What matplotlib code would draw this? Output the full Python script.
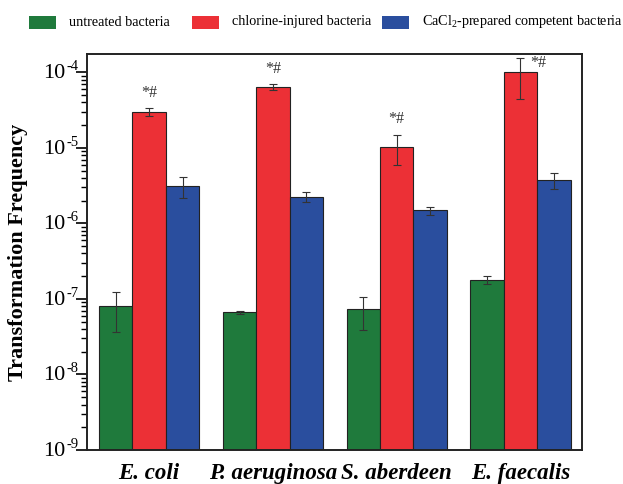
import numpy as np
import matplotlib
matplotlib.use('Agg')
import matplotlib.pyplot as plt
from matplotlib.patches import Rectangle

plt.rcParams['font.family'] = 'Liberation Serif'
plt.rcParams['mathtext.fontset'] = 'custom'
plt.rcParams['mathtext.rm'] = 'Liberation Serif'
plt.rcParams['mathtext.it'] = 'Liberation Serif:italic'

species = ['E. coli', 'P. aeruginosa', 'S. aberdeen', 'E. faecalis']
groups = ['untreated bacteria', 'chlorine-injured bacteria',
          'CaCl$_2$-prepared competent bacteria']
untreated = [7.9e-8, 6.6e-8, 7.2e-8, 1.79e-7]
untreated_err = [4.3e-8, 3e-9, 3.3e-8, 2e-8]
chlorine = [3.0e-5, 6.4e-5, 1.04e-5, 1.0e-4]
chlorine_err = [3.5e-6, 6e-6, 4.5e-6, 5.6e-5]
cacl2 = [3.16e-6, 2.26e-6, 1.48e-6, 3.77e-6]
cacl2_err = [1.0e-6, 3.3e-7, 1.8e-7, 9e-7]
marks = ['*#', '*#', '*#', '*#']
decades = [-9, -8, -7, -6, -5, -4]

colors = ['#1f7a3c', '#ec3036', '#2a4e9e']

fig = plt.figure(figsize=(6.23, 4.84), dpi=100)
ax = fig.add_axes([0.1401, 0.0702, 0.7946, 0.8176])

x = np.arange(len(species))
w = 0.27
series = [(untreated, untreated_err), (chlorine, chlorine_err), (cacl2, cacl2_err)]
for i, (vals, errs) in enumerate(series):
    ax.bar(x + (i - 1) * w, vals, w, bottom=1e-9, color=colors[i],
           edgecolor='#222222', linewidth=0.8)
    ax.errorbar(x + (i - 1) * w, vals, yerr=errs, fmt='none',
                ecolor='#333333', elinewidth=0.8, capsize=3, capthick=0.8)

# significance marks above the chlorine bars
for j in range(len(species)):
    top = chlorine[j] + chlorine_err[j]
    if j == 3:
        off = (13, -4)
    else:
        off = (0, 11)
    ax.annotate(marks[j], (x[j], top), xytext=off, textcoords='offset points',
                ha='center', va='center', fontsize=11.5, color='#333333')

ax.set_yscale('log')
ax.set_ylim(1e-9, 1.73e-4)
ax.set_xlim(-0.5, 3.5)
ax.set_yticks([10.0 ** d for d in decades])
ax.set_yticks([k * 10.0 ** d for d in decades[:-1] for k in range(2, 10)],
              minor=True)
ax.set_yticklabels([])
ax.tick_params(axis='y', which='major', length=8, width=1.2, direction='out')
ax.tick_params(axis='y', which='minor', length=4, width=1.0, direction='out',
               labelleft=False)

# tick labels as 10 with a small raised exponent, like the original
trans = ax.get_yaxis_transform()
for d in decades:
    ax.annotate('10', (0, 10.0 ** d), xycoords=trans, xytext=(-15.5, -1),
                textcoords='offset points', ha='right', va='center',
                fontsize=16, annotation_clip=False)
    ax.annotate('-%d' % -d, (0, 10.0 ** d), xycoords=trans, xytext=(-15, 4),
                textcoords='offset points', ha='left', va='center',
                fontsize=10.5, annotation_clip=False)

ax.tick_params(axis='x', length=0, pad=9)
ax.set_xticks(x)
ax.set_xticklabels(species, fontsize=16.5, fontweight='bold', fontstyle='italic')
ax.set_ylabel('Transformation Frequency', fontsize=16, fontweight='bold')
ax.yaxis.set_label_coords(-0.12, 0.5)
for s in ax.spines.values():
    s.set_linewidth(1.4)
    s.set_color('#222222')

# legend row across the top
leg_x = [29, 192, 382]
for c, lab, px in zip(colors, groups, leg_x):
    fig.patches.append(Rectangle((px / 623, 1 - 29 / 484), 27 / 623, 13 / 484,
                                 transform=fig.transFigure, facecolor=c,
                                 edgecolor='none'))
    fig.text((px + 40) / 623, 1 - 22 / 484, lab, fontsize=10.2,
             va='center', ha='left')

fig.savefig('out.png', dpi=100)
